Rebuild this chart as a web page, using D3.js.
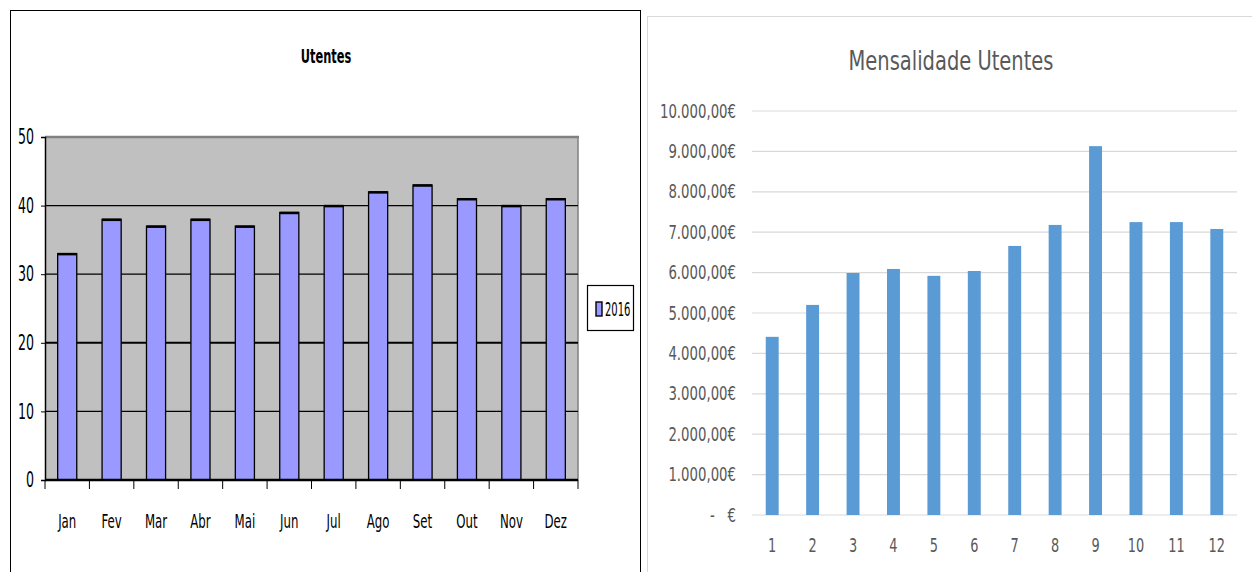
<!DOCTYPE html>
<html>
<head>
<meta charset="utf-8">
<script src="https://cdn.jsdelivr.net/npm/d3@7"></script>
<style>
body { margin: 0; background: #fff; }
text { font-family: "DejaVu Sans", sans-serif; }
</style>
</head>
<body>
<svg id="chart" width="1252" height="572"></svg>
<script>
// left chart: Utentes
var meses = ['Jan', 'Fev', 'Mar', 'Abr', 'Mai', 'Jun', 'Jul', 'Ago', 'Set', 'Out', 'Nov', 'Dez'];
var utentes2016 = [33, 38, 37, 38, 37, 39, 40, 42, 43, 41, 40, 41];
var utentesTicks = [0, 10, 20, 30, 40, 50];

// right chart: Mensalidade Utentes
var numMes = ['1', '2', '3', '4', '5', '6', '7', '8', '9', '10', '11', '12'];
var mensalidade = [4410, 5200, 5990, 6090, 5920, 6040, 6660, 7180, 9130, 7250, 7250, 7080];
var mensalidadeTicks = [0, 1000, 2000, 3000, 4000, 5000, 6000, 7000, 8000, 9000, 10000];

var svg = d3.select('#chart');

// the picture uses a narrow font, squeeze text around its anchor
var squeeze = function (sel, sx) {
    sel.each(function () {
        var t = d3.select(this);
        var x = +t.attr('x') || 0;
        t.attr('transform', 'translate(' + x + ',0) scale(' + sx + ',1) translate(' + (-x) + ',0)');
    });
};

// ---- left ----
var L = svg.append('g');
L.append('rect')
    .attr('x', 10.5).attr('y', 10.5).attr('width', 630).attr('height', 580)
    .attr('fill', '#fff').attr('stroke', '#000').attr('stroke-width', 1);

L.append('text')
    .attr('x', 326).attr('y', 63)
    .attr('text-anchor', 'middle')
    .style('font-size', '19px').style('font-weight', 'bold')
    .text('Utentes')
    .call(squeeze, 0.6);

var x1 = d3.scaleBand().domain(meses).range([45, 578]).paddingInner(0.57).paddingOuter(0.285);
var y1 = d3.scaleLinear().domain([0, 50]).range([480, 137]);

L.append('rect')
    .attr('x', 45).attr('y', y1(50)).attr('width', 578 - 45).attr('height', y1(0) - y1(50))
    .attr('fill', '#c0c0c0');
L.append('line')
    .attr('x1', 45).attr('x2', 579).attr('y1', y1(50)).attr('y2', y1(50))
    .attr('stroke', '#808080').attr('stroke-width', 2.5);
L.append('line')
    .attr('x1', 578).attr('x2', 578).attr('y1', y1(50)).attr('y2', y1(0))
    .attr('stroke', '#808080').attr('stroke-width', 1.5);

L.selectAll('line.grid').data(utentesTicks.filter(function (d) { return d > 0 && d < 50; }))
    .enter().append('line')
    .attr('class', 'grid')
    .attr('x1', 45).attr('x2', 578)
    .attr('y1', function (d) { return y1(d); }).attr('y2', function (d) { return y1(d); })
    .attr('stroke', '#000').attr('stroke-width', function (d) { return d === 20 ? 2 : 1.2; });

L.selectAll('rect.bar').data(utentes2016)
    .enter().append('rect')
    .attr('class', 'bar')
    .attr('x', function (d, i) { return x1(meses[i]); })
    .attr('y', function (d) { return y1(d); })
    .attr('width', x1.bandwidth())
    .attr('height', function (d) { return y1(0) - y1(d); })
    .attr('fill', '#9999ff').attr('stroke', '#000').attr('stroke-width', 1.3);
L.selectAll('line.bartop').data(utentes2016)
    .enter().append('line')
    .attr('class', 'bartop')
    .attr('x1', function (d, i) { return x1(meses[i]); })
    .attr('x2', function (d, i) { return x1(meses[i]) + x1.bandwidth(); })
    .attr('y1', function (d) { return y1(d) + 0.5; })
    .attr('y2', function (d) { return y1(d) + 0.5; })
    .attr('stroke', '#000').attr('stroke-width', 2.5);

var yAxis1 = L.append('g').attr('transform', 'translate(45,0)')
    .call(d3.axisLeft(y1).tickValues(utentesTicks).tickSize(4).tickPadding(7));
yAxis1.select('.domain').attr('stroke-width', 1.5);
yAxis1.selectAll('text').style('font-size', '21px').attr('fill', '#000').call(squeeze, 0.6);

var bounds = d3.range(13).map(function (i) { return 45 + i * (578 - 45) / 12; });
L.append('line')
    .attr('x1', 45).attr('x2', 578).attr('y1', y1(0)).attr('y2', y1(0))
    .attr('stroke', '#000').attr('stroke-width', 2.5);
L.selectAll('line.xtick').data(bounds)
    .enter().append('line')
    .attr('class', 'xtick')
    .attr('x1', function (d) { return d; }).attr('x2', function (d) { return d; })
    .attr('y1', y1(0)).attr('y2', y1(0) + 9)
    .attr('stroke', '#000').attr('stroke-width', 1);
L.selectAll('text.xlab').data(meses)
    .enter().append('text')
    .attr('class', 'xlab')
    .attr('x', function (d) { return x1(d) + x1.bandwidth() / 2; })
    .attr('y', 528)
    .attr('text-anchor', 'middle')
    .style('font-size', '19px')
    .text(function (d) { return d; })
    .call(squeeze, 0.62);

// legend
L.append('rect')
    .attr('x', 587.5).attr('y', 285.5).attr('width', 46).attr('height', 45)
    .attr('fill', '#fff').attr('stroke', '#000').attr('stroke-width', 1.2);
L.append('rect')
    .attr('x', 596).attr('y', 302).attr('width', 6).attr('height', 14)
    .attr('fill', '#9999ff').attr('stroke', '#000').attr('stroke-width', 1.4);
L.append('text')
    .attr('x', 605).attr('y', 316)
    .style('font-size', '20px')
    .text('2016')
    .call(squeeze, 0.5);

// ---- right ----
var R = svg.append('g');
R.append('rect')
    .attr('x', 647.5).attr('y', 16.5).attr('width', 620).attr('height', 600)
    .attr('fill', '#fff').attr('stroke', '#d9d9d9').attr('stroke-width', 1);

R.append('text')
    .attr('x', 951).attr('y', 70)
    .attr('text-anchor', 'middle')
    .style('font-size', '26px').attr('fill', '#595959')
    .text('Mensalidade Utentes')
    .call(squeeze, 0.75);

var x2 = d3.scaleBand().domain(numMes).range([752, 1237]).paddingInner(0.68).paddingOuter(0.34);
var y2 = d3.scaleLinear().domain([0, 10000]).range([515, 111]);

R.selectAll('line.grid2').data(mensalidadeTicks)
    .enter().append('line')
    .attr('class', 'grid2')
    .attr('x1', 752).attr('x2', 1237)
    .attr('y1', function (d) { return y2(d); }).attr('y2', function (d) { return y2(d); })
    .attr('stroke', '#d9d9d9').attr('stroke-width', 1.2);

R.selectAll('rect.bar2').data(mensalidade)
    .enter().append('rect')
    .attr('class', 'bar2')
    .attr('x', function (d, i) { return x2(numMes[i]); })
    .attr('y', function (d) { return y2(d); })
    .attr('width', x2.bandwidth())
    .attr('height', function (d) { return y2(0) - y2(d); })
    .attr('fill', '#5b9bd5');

var fmtEuro = function (v) {
    if (v === 0) return '-   €';
    var s = d3.format(',.2f')(v);
    return s.replace(/,/g, '#').replace('.', ',').replace(/#/g, '.') + '€';
};
var yAxis2 = R.append('g').attr('transform', 'translate(752,0)')
    .call(d3.axisLeft(y2).tickValues(mensalidadeTicks).tickSize(0).tickPadding(16).tickFormat(fmtEuro));
yAxis2.select('.domain').remove();
yAxis2.selectAll('text').style('font-size', '19px').style('white-space', 'pre').attr('fill', '#595959').call(squeeze, 0.7);

var xAxis2 = R.append('g').attr('transform', 'translate(0,515)')
    .call(d3.axisBottom(x2).tickSize(0).tickPadding(24));
xAxis2.select('.domain').remove();
xAxis2.selectAll('text').style('font-size', '19px').attr('fill', '#595959').call(squeeze, 0.68);
</script>
</body>
</html>
